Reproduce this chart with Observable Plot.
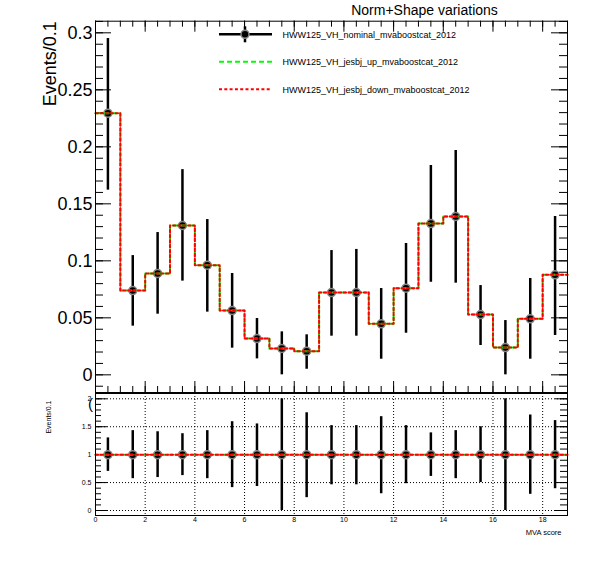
<!DOCTYPE html>
<html>
<head>
<meta charset="utf-8">
<script src="https://cdn.jsdelivr.net/npm/d3@7"></script>
<script src="https://cdn.jsdelivr.net/npm/@observablehq/plot@0.6"></script>
<style>
  html, body { margin: 0; padding: 0; background: white; }
  #wrap { position: relative; width: 596px; height: 572px; background: white; }
  #wrap svg { position: absolute; left: 0; overflow: visible; }
</style>
</head>
<body>
<div id="wrap"></div>
<script>
// ---------- data ----------
const binCenters = [0.5,1.5,2.5,3.5,4.5,5.5,6.5,7.5,8.5,9.5,10.5,11.5,12.5,13.5,14.5,15.5,16.5,17.5,18.5];
const binEdges   = [0,1,2,3,4,5,6,7,8,9,10,11,12,13,14,15,16,17,18,19];

const nominal  = [0.2295,0.0739,0.0889,0.131,0.0962,0.0564,0.0318,0.0231,0.0207,0.0722,0.0722,0.0447,0.076,0.1327,0.1389,0.0529,0.0239,0.0491,0.0877];
const nomLow   = [0.162,0.0427,0.0532,0.0822,0.055,0.0234,0.014,0.0,0.0049,0.0339,0.0339,0.0137,0.0365,0.0812,0.0804,0.0257,0.0,0.0137,0.0345];
const nomHigh  = [0.295,0.1046,0.1248,0.180,0.1362,0.0889,0.0494,0.0377,0.0351,0.109,0.110,0.0757,0.1152,0.1836,0.1968,0.0783,0.0476,0.0845,0.1389];
const jesUp    = [0.2295,0.0739,0.0889,0.131,0.0962,0.0564,0.0318,0.0231,0.0207,0.0722,0.0722,0.0447,0.076,0.1327,0.1389,0.0529,0.0239,0.0491,0.0877];
const jesDown  = [0.2295,0.0739,0.0889,0.131,0.0962,0.0564,0.0318,0.0231,0.0207,0.0722,0.0722,0.0447,0.076,0.1327,0.1389,0.0529,0.0239,0.0491,0.0877];

const ratioNominal = [1,1,1,1,1,1,1,1,1,1,1,1,1,1,1,1,1,1,1];
const ratioLow  = [0.70,0.57,0.59,0.625,0.57,0.41,0.43,0.0,0.23,0.46,0.46,0.30,0.48,0.61,0.57,0.50,0.0,0.29,0.39];
const ratioHigh = [1.30,1.43,1.41,1.375,1.43,1.59,1.55,2.0,1.75,1.52,1.52,1.68,1.52,1.39,1.43,1.50,2.0,1.71,1.61];
const ratioUp   = [1,1,1,1,1,1,1,1,1,1,1,1,1,1,1,1,1,1,1];
const ratioDown = [1,1,1,1,1,1,1,1,1,1,1,1,1,1,1,1,1,1,1];

const legendLabels = ["HWW125_VH_nominal_mvaboostcat_2012","HWW125_VH_jesbj_up_mvaboostcat_2012","HWW125_VH_jesbj_down_mvaboostcat_2012"];
const titleText = "Norm+Shape variations";
const yTitle = "Events/0.1";
const xTitle = "MVA score";

const upperYLabels = [0,0.05,0.1,0.15,0.2,0.25,0.3];
const upperYMinor  = d3.range(-1,32).map(d => d/100);
const xMajor = [0,2,4,6,8,10,12,14,16,18];
const xMinor = d3.range(0,39).map(d => d/2);
const lowerYLabels = [0,0.5,1,1.5,2];
const lowerYMinor  = d3.range(0,21).map(d => d/10);
const gridX = [2,4,6,8,10,12,14,16,18];
const gridY = [0,0.5,1,1.5,2];

// ---------- layout ----------
const FONT = "'Liberation Sans', Arial, Helvetica, sans-serif";
const W = 596, ML = 95, MR = 29;
const FW = W - ML - MR;
const UH = 393, UMT = 20.7, UMB = 1;
const UFH = UH - UMT - UMB;
const LH = 180, LMT = 1, LMB = 57;
const LFH = LH - LMT - LMB;
const LEG_ROWS = [34.3, 61.7, 89.3];

const GREEN = "#00ff00", RED = "#ff0000";
const GREEN_DASH = "5,3", RED_DASH = "2.5,2.5";

function steps(vals) {
  return binEdges.map((e, i) => ({x: e, y: vals[Math.min(i, vals.length - 1)]}));
}
const upRows = binCenters.map((x, i) => ({x, v: nominal[i], lo: nomLow[i], hi: nomHigh[i]}));
const ratioRows = binCenters.map((x, i) => ({x, v: ratioNominal[i], lo: ratioLow[i], hi: ratioHigh[i]}));

function frameTicksY(major, minor, majLen, minLen, majLenR, minLenR) {
  return [
    Plot.tickY(minor, {y: d => d, insetRight: FW - minLen, stroke: "black"}),
    Plot.tickY(major, {y: d => d, insetRight: FW - majLen, stroke: "black"}),
    Plot.tickY(minor, {y: d => d, insetLeft: FW - minLenR, stroke: "black"}),
    Plot.tickY(major, {y: d => d, insetLeft: FW - majLenR, stroke: "black"})
  ];
}

// legend symbols (layout only)
function legendMark() {
  const g = d3.create("svg:g");
  const rows = LEG_ROWS;
  g.append("line").attr("x1", 219).attr("x2", 272).attr("y1", rows[0]).attr("y2", rows[0])
    .attr("stroke", "black").attr("stroke-width", 2.5);
  g.append("line").attr("x1", 245).attr("x2", 245).attr("y1", rows[0] - 8).attr("y2", rows[0] + 8)
    .attr("stroke", "black").attr("stroke-width", 2.5);
  g.append("circle").attr("cx", 245).attr("cy", rows[0]).attr("r", 4)
    .attr("fill", "black").attr("stroke", "#888").attr("stroke-width", 1.5);
  g.append("line").attr("x1", 219).attr("x2", 272).attr("y1", rows[1]).attr("y2", rows[1])
    .attr("stroke", GREEN).attr("stroke-width", 2).attr("stroke-dasharray", GREEN_DASH);
  g.append("line").attr("x1", 219).attr("x2", 272).attr("y1", rows[2]).attr("y2", rows[2])
    .attr("stroke", RED).attr("stroke-width", 2).attr("stroke-dasharray", "3,2.3");
  return g.node();
}

const fmt = d => String(+d.toFixed(3));

const legendTexts = legendLabels.map((lab, i) =>
  Plot.text([lab], {frameAnchor: "top-left", text: d => d, dx: 282 - ML, dy: LEG_ROWS[i] - UMT,
    textAnchor: "start", lineAnchor: "middle", fontSize: 9, fill: "black"}));

const upper = Plot.plot({
  width: W, height: UH,
  marginLeft: ML, marginRight: MR, marginTop: UMT, marginBottom: UMB,
  x: {domain: [0, 19], axis: null},
  y: {domain: [-0.0155, 0.3102], axis: null},
  style: {fontFamily: FONT, background: "transparent", overflow: "visible", color: "black"},
  marks: [
    ...frameTicksY(upperYLabels, upperYMinor, 16, 8, 16, 8),
    Plot.tickX(xMinor, {x: d => d, insetTop: UFH - 6, stroke: "black"}),
    Plot.tickX(xMajor, {x: d => d, insetTop: UFH - 11, stroke: "black"}),
    Plot.tickX(xMinor, {x: d => d, insetBottom: UFH - 6, stroke: "black"}),
    Plot.tickX(xMajor, {x: d => d, insetBottom: UFH - 11, stroke: "black"}),
    Plot.axisY({ticks: upperYLabels, tickSize: 0, tickPadding: 3, fontSize: 18, tickFormat: fmt, label: null}),
    Plot.ruleX(upRows, {x: "x", y1: "lo", y2: "hi", stroke: "black", strokeWidth: 2.5}),
    Plot.dot(upRows, {x: "x", y: "v", r: 4, fill: "black", stroke: "#888", strokeWidth: 1.5}),
    Plot.line(steps(jesUp), {x: "x", y: "y", curve: "step-after", stroke: GREEN, strokeWidth: 2, strokeDasharray: GREEN_DASH}),
    Plot.line(steps(jesDown), {x: "x", y: "y", curve: "step-after", stroke: RED, strokeWidth: 2, strokeDasharray: RED_DASH}),
    Plot.frame({stroke: "black", strokeWidth: 1}),
    legendMark,
    ...legendTexts,
    Plot.text([titleText], {frameAnchor: "top-left", text: d => d, dx: 424 - ML, dy: 10 - UMT,
      textAnchor: "middle", lineAnchor: "middle", fontSize: 14, fill: "black"}),
    Plot.text([yTitle], {frameAnchor: "top-left", text: d => d, dx: -40, dy: 0,
      rotate: -90, textAnchor: "end", lineAnchor: "bottom", fontSize: 18, fill: "black"})
  ]
});

const lower = Plot.plot({
  width: W, height: LH,
  marginLeft: ML, marginRight: MR, marginTop: LMT, marginBottom: LMB,
  x: {domain: [0, 19], axis: null},
  y: {domain: [-0.0895, 2.095], axis: null},
  style: {fontFamily: FONT, background: "transparent", overflow: "visible", color: "black"},
  marks: [
    Plot.ruleX(gridX, {x: d => d, stroke: "black", strokeDasharray: "1,2"}),
    Plot.ruleY(gridY, {y: d => d, stroke: "black", strokeDasharray: "1,2"}),
    ...frameTicksY(lowerYLabels, lowerYMinor, 12, 6, 12, 7),
    Plot.axisY({ticks: lowerYLabels, tickSize: 0, tickPadding: 4, fontSize: 7, tickFormat: fmt, label: null}),
    Plot.axisX({ticks: xMajor, tickSize: 0, tickPadding: 1.5, fontSize: 7, tickFormat: d => String(d), label: null}),
    Plot.ruleX(ratioRows, {x: "x", y1: "lo", y2: "hi", stroke: "black", strokeWidth: 2.5}),
    Plot.dot(ratioRows, {x: "x", y: "v", r: 4, fill: "black", stroke: "#888", strokeWidth: 1.5}),
    Plot.line(steps(ratioUp), {x: "x", y: "y", curve: "step-after", stroke: GREEN, strokeWidth: 2, strokeDasharray: GREEN_DASH}),
    Plot.line(steps(ratioDown), {x: "x", y: "y", curve: "step-after", stroke: RED, strokeWidth: 2, strokeDasharray: RED_DASH}),
    Plot.frame({stroke: "black", strokeWidth: 1}),
    Plot.text(["("], {frameAnchor: "top-left", text: d => d, dx: -7.5, dy: 10.5,
      textAnchor: "start", lineAnchor: "middle", fontSize: 15, fill: "black"}),
    Plot.text([yTitle], {frameAnchor: "top-left", text: d => d, dx: -44.5, dy: 7,
      rotate: -90, textAnchor: "end", lineAnchor: "bottom", fontSize: 7, fill: "black"}),
    Plot.text([xTitle], {frameAnchor: "bottom-right", text: d => d, dx: -6, dy: 16.7,
      textAnchor: "end", lineAnchor: "middle", fontSize: 7.5, fill: "black"})
  ]
});

upper.style.top = "0px";
lower.style.top = "392px";
const wrap = document.getElementById("wrap");
wrap.appendChild(upper);
wrap.appendChild(lower);
</script>
</body>
</html>
